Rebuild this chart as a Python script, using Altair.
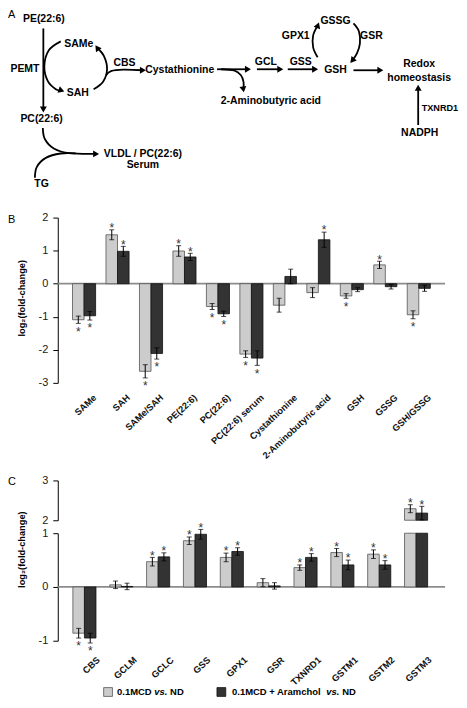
import math
import altair as alt
import pandas as pd

FONT = "Liberation Sans, Arial, Helvetica, sans-serif"
YTITLE = "log\u2082(fold-change)"

# ---------------- chart values ----------------
series = ["0.1MCD vs. ND", "0.1MCD + Aramchol vs. ND"]
series_fill = ["#cccccc", "#333333"]
series_stroke = ["#555555", "#111111"]

b_categories = ["SAMe", "SAH", "SAMe/SAH", "PE(22:6)", "PC(22:6)", "PC(22:6) serum",
                "Cystathionine", "2-Aminobutyric acid", "GSH", "GSSG", "GSH/GSSG"]
b_mcd = [-1.09, 1.48, -2.65, 0.99, -0.69, -2.13, -0.65, -0.27, -0.37, 0.57, -0.94]
b_mcd_err = [0.11, 0.15, 0.20, 0.16, 0.09, 0.10, 0.21, 0.15, 0.07, 0.11, 0.12]
b_mcd_sig = [1, 1, 1, 1, 1, 1, 0, 0, 1, 1, 1]
b_ara = [-0.97, 0.98, -2.11, 0.81, -0.91, -2.25, 0.22, 1.33, -0.18, -0.09, -0.14]
b_ara_err = [0.13, 0.15, 0.17, 0.11, 0.08, 0.22, 0.22, 0.23, 0.06, 0.07, 0.09]
b_ara_sig = [1, 1, 1, 1, 1, 1, 0, 1, 0, 0, 0]

c_categories = ["CBS", "GCLM", "GCLC", "GSS", "GPX1", "GSR", "TXNRD1", "GSTM1", "GSTM2", "GSTM3"]
c_mcd = [-0.86, 0.04, 0.47, 0.86, 0.55, 0.08, 0.36, 0.64, 0.61, 2.29]
c_mcd_err = [0.09, 0.07, 0.08, 0.07, 0.08, 0.075, 0.05, 0.075, 0.08, 0.10]
c_mcd_sig = [1, 0, 1, 1, 1, 0, 1, 1, 1, 1]
c_ara = [-0.95, 0.01, 0.56, 0.98, 0.66, 0.02, 0.55, 0.41, 0.41, 2.18]
c_ara_err = [0.09, 0.06, 0.075, 0.09, 0.07, 0.06, 0.07, 0.09, 0.08, 0.17]
c_ara_sig = [1, 0, 1, 1, 1, 0, 1, 1, 1, 1]

b_ticks = [-3, -2, -1, 0, 1, 2]
c_ticks_low = [-1, 0, 1]
c_ticks_up = [2, 3]

# ---------------- pathway diagram (panel A) layout, in figure pixels ----------------
diag_labels = ["PE(22:6)", "PEMT", "SAMe", "SAH", "CBS", "Cystathionine", "2-Aminobutyric acid",
               "GCL", "GSS", "GSH", "GSSG", "GPX1", "GSR", "Redox", "homeostasis",
               "NADPH", "PC(22:6)", "VLDL / PC(22:6)", "Serum", "TG"]
diag_lx = [44, 25, 79, 78, 125, 180.5, 272, 267, 302, 337, 337, 297, 373, 421, 421,
           421.5, 41.7, 143.5, 143.5, 41.7]
diag_ly = [17.5, 68, 43, 92, 62, 69, 100, 61, 61, 69, 20, 35, 35, 63, 77,
           132, 118, 153, 164, 183]
side_label, side_x, side_y = "TXNRD1", 423.5, 107

diag_paths = [
    [(43.5, 27), (43.5, 108.5)],
    [(61, 40), (49, 49), (44.5, 65), (48, 80), (56, 88), (61.7, 89.3)],
    [(94, 88), (103.5, 80.5), (107.5, 68), (104.5, 55), (97.5, 46.4)],
    [(106.5, 74), (111.5, 69.8), (124, 68.4), (143.5, 69)],
    [(218, 68), (249, 68)],
    [(222, 68), (235, 69.2), (242, 74), (244.6, 81), (244.4, 88.3)],
    [(258, 68), (281.5, 68)],
    [(289, 68), (316.5, 68)],
    [(319, 56), (314.5, 46), (314.5, 34), (319.3, 23.8)],
    [(355, 22), (360.5, 30), (361.5, 42), (358.5, 52), (353.7, 59.3)],
    [(355, 69), (382, 69)],
    [(420, 124), (420, 86.5)],
    [(43, 127), (45, 138), (54, 147.5), (70, 152.3), (96.5, 153)],
    [(35, 177), (37, 166), (46, 157), (61, 152.6), (76, 152.5)],
]
# arrow tips (x, y, pointing angle in degrees clockwise from up)
diag_heads = [(43.5, 112, 180), (65, 90.5, 110), (95.5, 43.5, 325), (147, 69, 90),
              (252.5, 68, 90), (245, 91.7, 170), (285, 68, 90), (320, 68, 90),
              (320.5, 20.5, 20), (351.5, 62, 220), (385.5, 69, 90), (420, 83, 0),
              (100, 153, 90)]

# Helvetica-Bold advance widths (per 1000 em) for legend layout
HB = {" ": 278, "(": 333, ")": 333, "-": 333, ".": 278, "/": 278, ":": 333, "+": 584,
      "0": 556, "1": 556, "2": 556, "3": 556, "6": 556,
      "A": 722, "B": 722, "C": 722, "D": 722, "E": 667, "G": 778, "H": 722, "L": 611,
      "M": 833, "N": 722, "P": 667, "R": 722, "S": 667, "T": 611, "X": 667,
      "a": 556, "b": 611, "c": 556, "d": 611, "e": 556, "h": 611, "i": 278, "m": 889,
      "n": 611, "o": 611, "r": 389, "s": 556, "t": 333, "u": 611, "v": 556, "y": 556}


def text_w(s, fs):
    return sum(HB.get(ch, 556) for ch in s) * fs / 1000.0


def long_table(cats, v1, e1, s1, v2, e2, s2):
    rows = []
    for i, cat in enumerate(cats):
        for name, v, e, s in ((series[0], v1[i], e1[i], s1[i]), (series[1], v2[i], e2[i], s2[i])):
            rows.append({"cat": cat, "series": name, "value": v,
                         "lo": round(v - e, 4), "hi": round(v + e, 4), "sig": s})
    return pd.DataFrame(rows)


PW = 389
LAB_FS = 9.3
LAB_ANGLE = 43

fill_enc = alt.Fill("series:N", scale=alt.Scale(domain=series, range=series_fill), legend=None)
stroke_enc = alt.Stroke("series:N", scale=alt.Scale(domain=series, range=series_stroke), legend=None)
xo_enc = alt.XOffset("series:N", sort=series,
                     scale=alt.Scale(domain=series, paddingInner=0, paddingOuter=0))


def y_axis(values, title, title_y):
    kw = dict(values=values, labelExpr="'' + datum.value", grid=False, domainColor="#000",
              domainWidth=1, tickColor="#000", tickWidth=1, tickSize=5, labelPadding=5,
              labelFont=FONT, labelFontSize=11, labelColor="#1a1a1a", labelFlush=False,
              labelOverlap=False)
    if title:
        kw.update(title=title, titleFont=FONT, titleFontSize=9.3, titleFontWeight="bold",
                  titleColor="#000", titleAngle=270, titleAlign="center", titleBaseline="bottom",
                  titleX=-31.5, titleY=title_y)
    else:
        kw.update(title=None)
    return alt.Axis(**kw)


def x_enc(cats, pi, po):
    return alt.X("cat:N", sort=cats, axis=None,
                 scale=alt.Scale(domain=cats, paddingInner=pi, paddingOuter=po))


def bar_layers(df, xe, yscale, axis, title, base_val=None):
    def Y(f, **k):
        return alt.Y(f, title=title, **k)

    enc_bar = dict(x=xe, xOffset=xo_enc, y=Y("value:Q", scale=yscale, axis=axis),
                   fill=fill_enc, stroke=stroke_enc)
    if base_val is not None:
        enc_bar["y2"] = alt.datum(base_val)
    base = alt.Chart(df)
    bars = base.mark_bar(strokeWidth=0.8).encode(**enc_bar)
    err = base.mark_rule(color="#000", strokeWidth=1).encode(
        x=xe, xOffset=xo_enc, y=Y("lo:Q"), y2="hi:Q")
    cap_lo = base.mark_tick(color="#000", thickness=1, size=5).encode(
        x=xe, xOffset=xo_enc, y=Y("lo:Q"))
    cap_hi = base.mark_tick(color="#000", thickness=1, size=5).encode(
        x=xe, xOffset=xo_enc, y=Y("hi:Q"))
    st_kw = dict(text="*", font=FONT, fontSize=12, fill="#333333", align="center",
                 baseline="middle")
    star_up = base.transform_filter("datum.sig == 1 && datum.value >= 0").mark_text(
        dy=-1.7, **st_kw).encode(x=xe, xOffset=xo_enc, y=Y("hi:Q"))
    star_dn = base.transform_filter("datum.sig == 1 && datum.value < 0").mark_text(
        dy=8.3, **st_kw).encode(x=xe, xOffset=xo_enc, y=Y("lo:Q"))
    return bars, [err, cap_lo, cap_hi, star_up, star_dn]


def cat_labels(cats, xe, y_px, shift):
    # right-aligned rotated labels; dx/dy act in the rotated text frame
    a = math.radians(LAB_ANGLE)
    return alt.Chart(pd.DataFrame({"cat": cats})).mark_text(
        angle=360 - LAB_ANGLE, align="right", baseline="middle", font=FONT, fontSize=LAB_FS,
        fontWeight="bold", color="#111", dx=shift * math.cos(a), dy=shift * math.sin(a)).encode(
        x=xe, y=alt.value(y_px), text="cat:N")


def letter(ch):
    return alt.Chart(pd.DataFrame({"t": [ch]})).mark_text(
        align="left", baseline="top", font=FONT, fontSize=11, color="#000").encode(
        text="t:N", x=alt.value(-50), y=alt.value(-4))


def zero_rule(title):
    return alt.Chart(pd.DataFrame({"z": [0]})).mark_rule(color="#8c8c8c", strokeWidth=1.8).encode(
        y=alt.Y("z:Q", title=title), x=alt.value(0), x2=alt.value(PW))


# ---------------- panel A ----------------
AX0, AY0, AH = 58, 8, 196
xs = alt.Scale(domain=[AX0, AX0 + PW], nice=False, zero=False)
ys = alt.Scale(domain=[AY0 + AH, AY0], nice=False, zero=False)

line_rows = []
for p, pts in enumerate(diag_paths):
    for i, (x, y) in enumerate(pts):
        line_rows.append({"path": p, "i": i, "x": x, "y": y})
head_rows = []
for (tx, ty, ang) in diag_heads:
    r = 3.5
    head_rows.append({"x": tx - r * math.sin(math.radians(ang)),
                      "y": ty + r * math.cos(math.radians(ang)), "ang": ang})
txt_df = pd.DataFrame({"label": diag_labels, "x": diag_lx, "y": diag_ly})

XA = alt.X("x:Q", scale=xs, axis=None)
YA = alt.Y("y:Q", scale=ys, axis=None)
a_lines = alt.Chart(pd.DataFrame(line_rows)).mark_line(
    color="#000", strokeWidth=1.8, interpolate="cardinal").encode(
    x=XA, y=YA, detail="path:N", order="i:Q")
a_heads = alt.Chart(pd.DataFrame(head_rows)).mark_point(
    shape="triangle-up", filled=True, size=48, color="#000", opacity=1).encode(
    x=XA, y=YA, angle=alt.Angle("ang:Q", scale=None))
a_text = alt.Chart(txt_df).mark_text(
    font=FONT, fontSize=10.5, fontWeight="bold", color="#000", align="center",
    baseline="middle").encode(x=XA, y=YA, text="label:N")
a_side = alt.Chart(pd.DataFrame({"label": [side_label], "x": [side_x], "y": [side_y]})).mark_text(
    font=FONT, fontSize=9.2, fontWeight="bold", color="#000", align="left",
    baseline="middle").encode(x=XA, y=YA, text="label:N")
a_letter = alt.Chart(pd.DataFrame({"t": ["A"], "x": [8], "y": [8]})).mark_text(
    align="left", baseline="top", font=FONT, fontSize=11, color="#000").encode(
    x=XA, y=YA, text="t:N")
panelA = alt.layer(a_lines, a_heads, a_text, a_side, a_letter).properties(width=PW, height=AH)

# ---------------- panel B ----------------
b_df = long_table(b_categories, b_mcd, b_mcd_err, b_mcd_sig, b_ara, b_ara_err, b_ara_sig)
xB = x_enc(b_categories, 0.31, 0.44)
yB = alt.Scale(domain=[-3, 2], range=[166, 0], nice=False, zero=False)
b_bars, b_rest = bar_layers(b_df, xB, yB, y_axis(b_ticks, YTITLE, 80.5), YTITLE)
panelB = alt.layer(zero_rule(YTITLE), b_bars, *b_rest, cat_labels(b_categories, xB, 179.5, 11),
                   letter("B")).properties(width=PW, height=251)

# ---------------- panel C (broken axis) ----------------
c_df = long_table(c_categories, c_mcd, c_mcd_err, c_mcd_sig, c_ara, c_ara_err, c_ara_sig)
c_up = c_df[c_df["value"] > 1].copy()
c_low = c_df.copy()
c_low["value"] = c_low["value"].clip(upper=1)
c_low_full = c_low[c_df["value"] <= 1]

xC = x_enc(c_categories, 0.31, 0.41)
yCu = alt.Scale(domain=[2, 3], nice=False, zero=False)
cu_bars, cu_rest = bar_layers(c_up, xC, yCu, y_axis(c_ticks_up, None, 0), None, base_val=2)
panelCu = alt.layer(cu_bars, *cu_rest, letter("C")).properties(width=PW, height=40)

yCl = alt.Scale(domain=[-1, 1], nice=False, zero=False)
cl_bars, _ = bar_layers(c_low, xC, yCl, y_axis(c_ticks_low, YTITLE, 16), YTITLE)
_, cl_rest = bar_layers(c_low_full, xC, yCl, y_axis(c_ticks_low, YTITLE, 16), YTITLE)

# legend (custom, so that "vs." can be italic)
LEG_Y = 159.5
LEG_FS = 9.5
leg_sq = pd.DataFrame({"series": series, "lx": [50.5, 164.3], "ly": [LEG_Y, LEG_Y]})
leg_marks = [alt.Chart(leg_sq).mark_point(shape="square", filled=True, size=78, strokeWidth=0.8,
                                          opacity=1).encode(
    x=alt.X("lx:Q", scale=None), y=alt.Y("ly:Q", scale=None), fill=fill_enc, stroke=stroke_enc)]
leg_start = [59.5, 175]
for si, name in enumerate(series):
    pre, post = name.split(" vs. ")
    px = leg_start[si]
    for txt, style in ((pre, "normal"), ("vs.", "italic"), (post, "normal")):
        leg_marks.append(alt.Chart(pd.DataFrame({"t": [txt]})).mark_text(
            align="left", baseline="middle", font=FONT, fontSize=LEG_FS, fontWeight="bold",
            fontStyle=style, color="#000").encode(
            text="t:N", x=alt.value(px), y=alt.value(LEG_Y)))
        px += text_w(txt + " ", LEG_FS)

panelCl = alt.layer(zero_rule(YTITLE), cl_bars, *cl_rest, cat_labels(c_categories, xC, 126, 13),
                    *leg_marks).properties(width=PW, height=108)

chart = alt.vconcat(panelA, panelB, panelCu, panelCl, spacing=13, bounds="flush").properties(
    padding=0, background="#ffffff")
chart = chart.configure(
    font=FONT, style={"cell": {"stroke": "transparent", "strokeWidth": 0, "fill": "transparent"}}
).configure_view(strokeWidth=0, stroke="transparent")

chart.save("out.html", embed_options={"renderer": "svg", "actions": False})
